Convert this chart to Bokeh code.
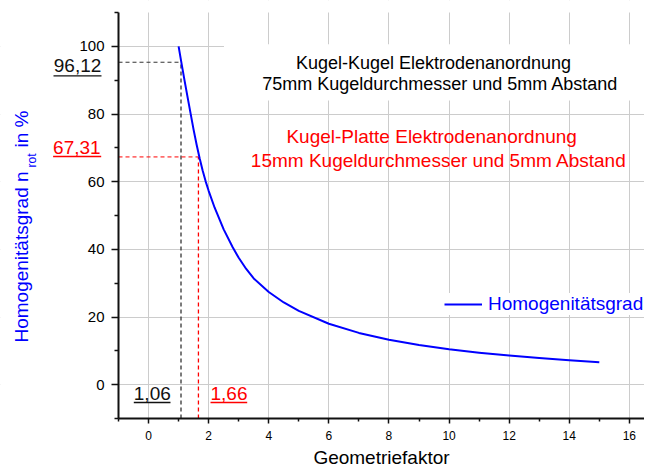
from bokeh.plotting import figure
from bokeh.models import Label, BoxAnnotation, Legend, LegendItem, FixedTicker, Range1d
from bokeh.embed import file_html
from bokeh.resources import INLINE

# ---- data ----
geo = [1.0, 1.1, 1.2, 1.3, 1.4, 1.5, 1.6, 1.7, 1.8, 1.9, 2.0, 2.2, 2.5, 2.8, 3.0, 3.25, 3.5,
       4.0, 4.5, 5.0, 6.0, 7.0, 8.0, 9.0, 10.0, 11.0, 12.0, 13.0, 14.0, 15.0]
hom = [100, 94.8, 89.8, 84.9, 80.1, 75.3, 70.9, 66.9, 63.3, 60.1, 57.3, 52.3, 45.9, 40.6, 37.5,
       34.2, 31.4, 27.4, 24.3, 21.8, 18.0, 15.3, 13.3, 11.7, 10.45, 9.45, 8.6, 7.88, 7.24, 6.65]

mark_x = [1.08, 1.66]          # geometry factors marked by dashed lines
mark_y = [95.3, 67.31]         # homogeneity at the marks
mark_x_text = ["1,06", "1,66"]
mark_y_text = ["96,12", "67,31"]
mark_colors = ["#333333", "red"]

x_ticks = [0, 2, 4, 6, 8, 10, 12, 14, 16]
x_minor = [-1, 1, 3, 5, 7, 9, 11, 13, 15, 17]
y_ticks = [0, 20, 40, 60, 80, 100]
y_minor = [-10, 10, 30, 50, 70, 90, 110]

title_black = ["Kugel-Kugel  Elektrodenanordnung", "75mm Kugeldurchmesser und 5mm Abstand"]
title_red = ["Kugel-Platte  Elektrodenanordnung", "15mm Kugeldurchmesser und 5mm Abstand"]
legend_label = "Homogenitätsgrad"
x_title = "Geometriefaktor"
y_title = ["Homogenitätsgrad n", "rot", "in %"]

FONT = "Liberation Sans"
AX_X, AX_Y = -1, -10               # where the axes cross
YTOP, XEND = 110, 17.0
# frame covers the whole canvas; axes are pinned at fixed data locations
X0, X1 = -4.9268, 16.504
Y0, Y1 = -24.187, 113.547

p = figure(width=644, height=466, output_backend="svg", toolbar_location=None,
           x_range=Range1d(X0, X1), y_range=Range1d(Y0, Y1), min_border=0)
p.outline_line_color = None
p.background_fill_color = "white"

# axes
for ax in (p.xaxis, p.yaxis):
    ax.axis_line_width = 2
    ax.axis_line_color = "#111111"
    ax.major_tick_line_color = "#111111"
    ax.minor_tick_line_color = "#111111"
    ax.major_tick_line_width = 1.5
    ax.minor_tick_line_width = 1.5
    ax.major_tick_in = 0
    ax.minor_tick_in = 0
    ax.major_label_text_font = FONT
    ax.major_label_text_color = "black"

p.xaxis.fixed_location = AX_Y
p.yaxis.fixed_location = AX_X
p.xaxis.bounds = (AX_X, XEND)
p.yaxis.bounds = (AX_Y, YTOP)

p.xaxis.ticker = FixedTicker(ticks=x_ticks, minor_ticks=x_minor)
p.yaxis.ticker = FixedTicker(ticks=y_ticks, minor_ticks=y_minor)
p.xaxis.major_tick_out = 5
p.xaxis.minor_tick_out = 3
p.xaxis.major_label_standoff = 7
p.xaxis.major_label_text_font_size = "12px"
p.xaxis.axis_label = x_title
p.xaxis.axis_label_text_font = FONT
p.xaxis.axis_label_text_font_size = "19px"
p.xaxis.axis_label_text_font_style = "normal"
p.xaxis.axis_label_text_color = "black"
p.xaxis.axis_label_standoff = 4

p.yaxis.major_tick_out = 7
p.yaxis.minor_tick_out = 4
p.yaxis.major_label_standoff = 7
p.yaxis.major_label_text_font_size = "15px"

p.xgrid.ticker = FixedTicker(ticks=x_ticks)
p.ygrid.ticker = FixedTicker(ticks=y_ticks)
for g in (p.xgrid, p.ygrid):
    g.grid_line_color = "#cccccc"
    g.grid_line_width = 1

# keep grid lines inside the axes box
for kw in (dict(right=AX_X), dict(bottom=YTOP), dict(top=AX_Y)):
    p.add_layout(BoxAnnotation(fill_color="white", fill_alpha=1, line_color=None,
                               level="underlay", **kw))

# dashed marker lines
for mx, my, c in zip(mark_x, mark_y, mark_colors):
    p.line([AX_X, mx], [my, my], line_color=c, line_width=1, line_dash="4 3")
    p.line([mx, mx], [AX_Y, my], line_color=c, line_width=1.3, line_dash="4 3")

# curve
curve = p.line(geo, hom, line_color="blue", line_width=2, line_join="round")

# white box behind the black title text
p.add_layout(BoxAnnotation(left=2.51, right=X1, top=100.6, bottom=83.96,
                           fill_color="white", fill_alpha=1, line_color=None))

def label(x, y, text, size, color, align="left", angle=0):
    p.add_layout(Label(x=x, y=y, text=text, text_font=FONT, text_font_size=size,
                       text_color=color, text_align=align, text_baseline="middle",
                       angle=angle, angle_units="deg"))

label(9.566, 94.99, title_black[0], "18px", "black", align="center")
label(9.706, 88.93, title_black[1], "18px", "black", align="center")
label(9.509, 73.26, title_red[0], "19px", "red", align="center")
label(9.659, 66.26, title_red[1], "19px", "red", align="center")

# underlined value labels
def underline(l, r, y, color):
    p.add_layout(BoxAnnotation(left=l, right=r, top=y + 0.2, bottom=y - 0.2,
                               fill_color=color, fill_alpha=1, line_color=None))

label(-3.153, 94.23, mark_y_text[0], "19px", "#111111")
underline(-3.163, -1.566, 91.29, "#111111")
label(-3.176, 70.04, mark_y_text[1], "19px", "red")
underline(-3.176, -1.576, 67.44, "red")
label(-0.491, -2.71, mark_x_text[0], "19px", "#111111")
underline(-0.491, 0.730, -5.27, "#111111")
label(2.062, -2.71, mark_x_text[1], "19px", "red")
underline(2.062, 3.283, -5.27, "red")

# y axis title with subscript
label(-4.2346, 12.46, y_title[0], "19px", "blue", angle=90)
label(-3.895, 64.19, y_title[1], "12px", "blue", angle=90)
label(-4.2346, 70.1, y_title[2], "19px", "blue", angle=90)

legend = Legend(items=[LegendItem(label=legend_label, renderers=[curve])],
                location=(444, 151), label_text_font=FONT, label_text_font_size="19px",
                label_text_color="blue", glyph_width=38, glyph_height=20, label_height=20,
                padding=0, margin=0, spacing=0, label_standoff=6,
                border_line_color=None, background_fill_color="white", background_fill_alpha=1)
p.add_layout(legend)

open("out.html", "w").write(file_html(p, INLINE))
